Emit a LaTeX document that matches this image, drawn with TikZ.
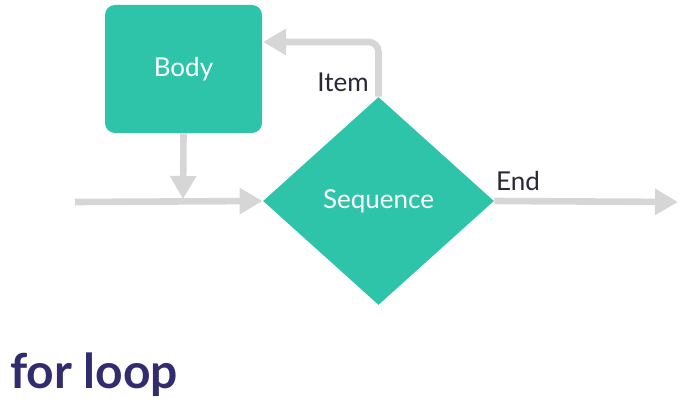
\documentclass[tikz,border=0pt]{standalone}
\usepackage{fontspec}
\setmainfont{Lato}
\usetikzlibrary{positioning,shapes.geometric,arrows.meta}
\definecolor{LoopTeal}{RGB}{46,196,170}
\definecolor{LoopGray}{RGB}{214,214,214}
\definecolor{LoopPurple}{RGB}{50,44,110}
\definecolor{LoopText}{RGB}{40,40,55}

\begin{document}
\begin{tikzpicture}[
    x=0.5pt, y=-0.5pt,
    box/.style={rectangle,rounded corners=5pt,fill=LoopTeal,text=white,minimum width=78.5pt,minimum height=64pt,font=\fontsize{13}{15}\selectfont},
    decision/.style={diamond,fill=LoopTeal,text=white,inner sep=0pt,minimum width=115.5pt,minimum height=104pt,font=\fontsize{13}{15}\selectfont},
    flow/.style={line width=3.3pt,draw=LoopGray,-{Triangle[width=12.5pt,length=11.5pt]}},
    lbl/.style={text=LoopText,font=\fontsize{13}{15}\selectfont}
]
\useasboundingbox (0,0) rectangle (688,406);

\node[box] (body) at (183.5,69) {Body};
\node[decision] (seq) at (378.5,201) {Sequence};

\coordinate (start) at (75,202);
\coordinate (finish) at (678,202);
\coordinate (join) at (183,199);
\coordinate (itemin) at (263,42);

\draw[flow] (start) -- (seq.west);
\draw[flow] (body.south) -- (join);
\draw[flow,rounded corners=5pt] (seq.north) |- (itemin);
\draw[flow] (seq.east) -- (finish);

\node[lbl] (item) at (343,82) {Item};
\node[lbl] (end) at (518,181) {End};

\node[anchor=west,text=LoopPurple,font=\fontsize{24}{28}\selectfont\bfseries] (title) at (3,375) {for loop};
\end{tikzpicture}
\end{document}
